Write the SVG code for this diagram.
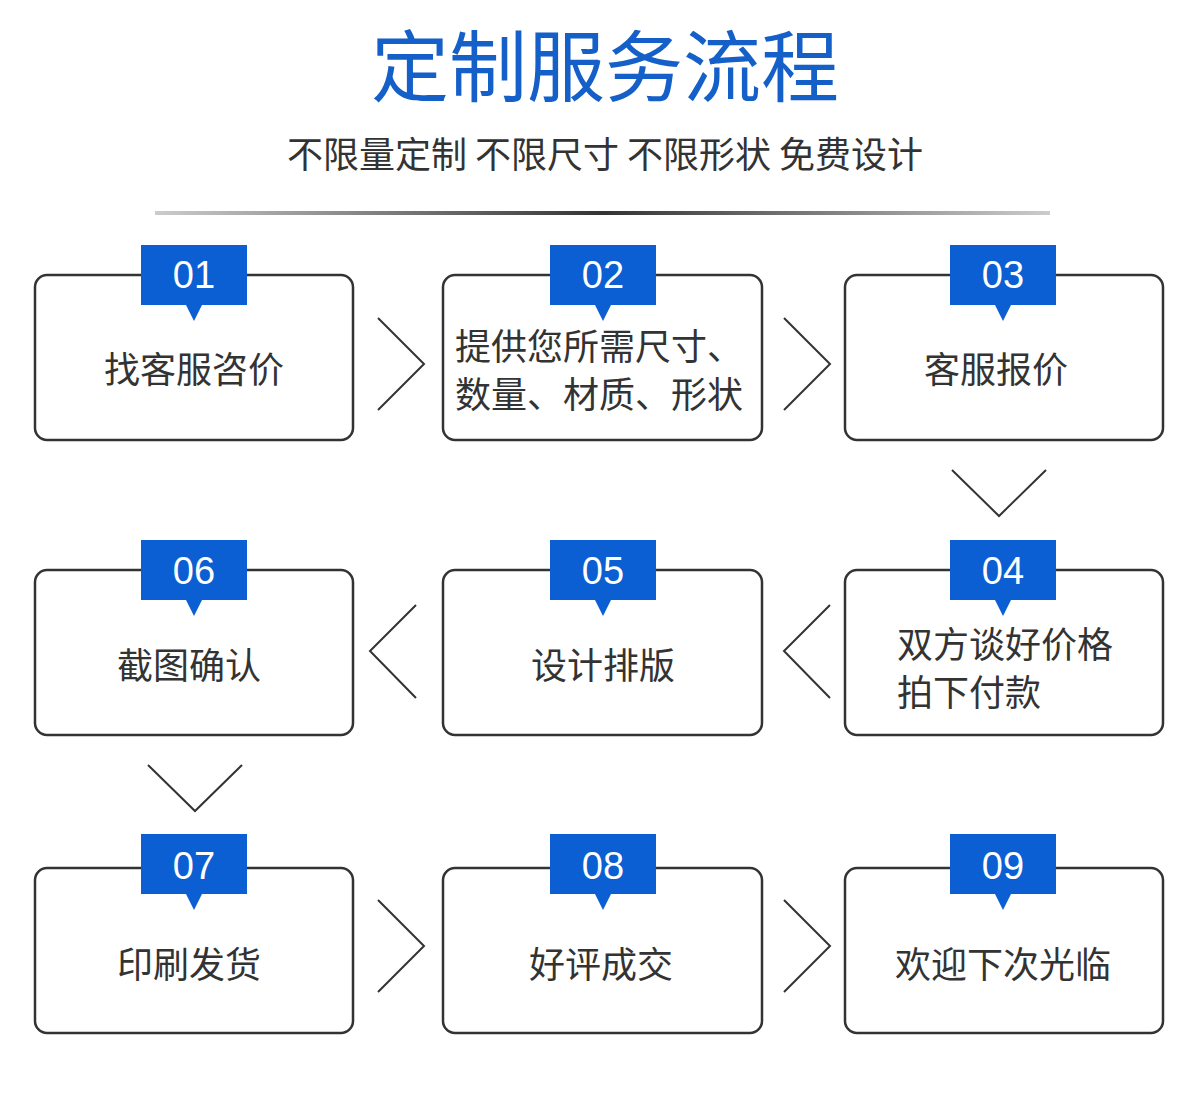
<svg xmlns="http://www.w3.org/2000/svg" width="1200" height="1108" viewBox="0 0 1200 1108">
<defs>
<style>
.box{fill:#fff;stroke:#333;stroke-width:2.5}
.tab{fill:#0b5fd3}
.num{font-family:"Liberation Sans",Arial,sans-serif;font-size:38px;fill:#fff;text-anchor:middle}
.t{font-family:"Noto Sans CJK SC",sans-serif;font-size:36px;fill:#333;text-anchor:middle}
.tl{font-family:"Noto Sans CJK SC",sans-serif;font-size:36px;fill:#333}
.ch{fill:none;stroke:#333;stroke-width:2}
</style>
<linearGradient id="lg" x1="0" x2="1"><stop offset="0" stop-color="#ccc"/><stop offset="0.5" stop-color="#333"/><stop offset="1" stop-color="#ccc"/></linearGradient>
</defs>
<rect width="1200" height="1108" fill="#fff"/>
<text x="605" y="96" font-family="Noto Sans CJK SC,sans-serif" font-size="78" fill="#1560c8" text-anchor="middle">定制服务流程</text>
<text x="605" y="168" font-family="Noto Sans CJK SC,sans-serif" font-size="36" fill="#333" text-anchor="middle">不限量定制 不限尺寸 不限形状 免费设计</text>
<rect x="155" y="211" width="895" height="4" fill="url(#lg)"/>
<g id="connectors">
<polyline class="ch" points="378,318 424,364 378,410"/>
<polyline class="ch" points="784,318 830,364 784,410"/>
<polyline class="ch" points="952,470 999,516 1046,470"/>
<polyline class="ch" points="830,605 784,651 830,698"/>
<polyline class="ch" points="416,605 370,651 416,698"/>
<polyline class="ch" points="148,765 195,811 242,765"/>
<polyline class="ch" points="378,900 424,946 378,992"/>
<polyline class="ch" points="784,900 830,946 784,992"/>
</g>
<g id="n01"><rect class="box" x="35" y="275" width="318" height="165" rx="12"/><path class="tab" d="M141,245h106v60h-45l-8,16l-8,-16h-45z"/><text class="num" x="194" y="288">01</text><text class="t" x="194" y="383">找客服咨价</text></g>
<g id="n02"><rect class="box" x="443" y="275" width="319" height="165" rx="12"/><path class="tab" d="M550,245h106v60h-45l-8,16l-8,-16h-45z"/><text class="num" x="603" y="288">02</text><text class="tl" x="455" y="360">提供您所需尺寸、</text><text class="tl" x="455" y="408">数量、材质、形状</text></g>
<g id="n03"><rect class="box" x="845" y="275" width="318" height="165" rx="12"/><path class="tab" d="M950,245h106v60h-45l-8,16l-8,-16h-45z"/><text class="num" x="1003" y="288">03</text><text class="t" x="996" y="383">客服报价</text></g>
<g id="n04"><rect class="box" x="845" y="570" width="318" height="165" rx="12"/><path class="tab" d="M950,540h106v60h-45l-8,16l-8,-16h-45z"/><text class="num" x="1003" y="584">04</text><text class="tl" x="897" y="658">双方谈好价格</text><text class="tl" x="897" y="706">拍下付款</text></g>
<g id="n05"><rect class="box" x="443" y="570" width="319" height="165" rx="12"/><path class="tab" d="M550,540h106v60h-45l-8,16l-8,-16h-45z"/><text class="num" x="603" y="584">05</text><text class="t" x="603" y="679">设计排版</text></g>
<g id="n06"><rect class="box" x="35" y="570" width="318" height="165" rx="12"/><path class="tab" d="M141,540h106v60h-45l-8,16l-8,-16h-45z"/><text class="num" x="194" y="584">06</text><text class="t" x="189" y="679">截图确认</text></g>
<g id="n07"><rect class="box" x="35" y="868" width="318" height="165" rx="12"/><path class="tab" d="M141,834h106v60h-45l-8,16l-8,-16h-45z"/><text class="num" x="194" y="879">07</text><text class="t" x="189" y="978">印刷发货</text></g>
<g id="n08"><rect class="box" x="443" y="868" width="319" height="165" rx="12"/><path class="tab" d="M550,834h106v60h-45l-8,16l-8,-16h-45z"/><text class="num" x="603" y="879">08</text><text class="t" x="601" y="978">好评成交</text></g>
<g id="n09"><rect class="box" x="845" y="868" width="318" height="165" rx="12"/><path class="tab" d="M950,834h106v60h-45l-8,16l-8,-16h-45z"/><text class="num" x="1003" y="879">09</text><text class="t" x="1003" y="978">欢迎下次光临</text></g>
</svg>
